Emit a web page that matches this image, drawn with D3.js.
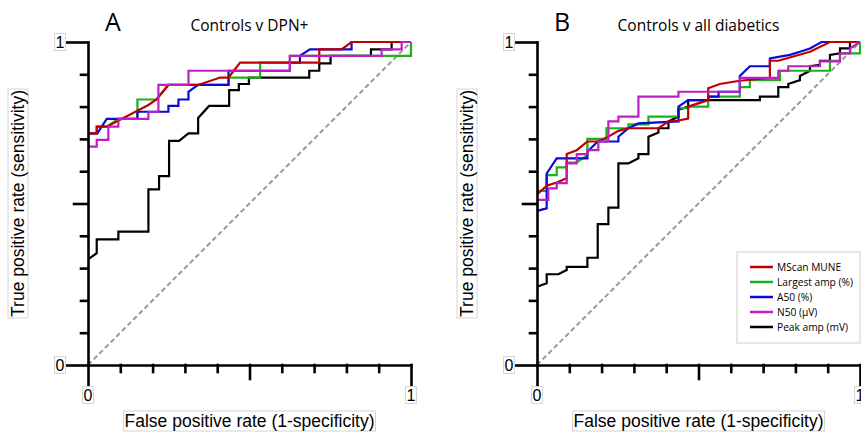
<!DOCTYPE html>
<html>
<head>
<meta charset="utf-8">
<script src="https://cdn.jsdelivr.net/npm/d3@7"></script>
<style>
  body { margin: 0; background: #fff; }
  svg { display: block; }
  .lab { font-family: "Liberation Sans", Arial, sans-serif; fill: #000; }
  .ttl { font-family: "Open Sans", sans-serif; fill: #000; }
</style>
</head>
<body>
<svg width="861" height="436"></svg>
<script>
(function(){
  'use strict';

  var WIDTH = 861;
  var HEIGHT = 436;

  var seriesNames = ['MScan MUNE', 'Largest amp (%)', 'A50 (%)', 'N50 (\u00b5V)', 'Peak amp (mV)'];
  var seriesColors = ['#c00000', '#1cb01c', '#0a0ad0', '#c01ec4', '#000000'];
  var axisTicks = [0, 0.1, 0.2, 0.3, 0.4, 0.5, 0.6, 0.7, 0.8, 0.9, 1];
  var axisTickLabels = ['0', '1'];

  // panel A: Controls v DPN+   ([fpr, tpr] pairs)
  var aMune = [[0,0.717],[0.027,0.717],[0.027,0.738],[0.058,0.738],[0.187,0.805],[0.212,0.822],
    [0.249,0.867],[0.341,0.867],[0.409,0.890],[0.435,0.890],[0.471,0.936],[0.716,0.936],
    [0.716,0.977],[0.785,0.977],[0.816,1],[1,1]];
  var aLargest = [[0,0.717],[0.027,0.717],[0.027,0.738],[0.058,0.738],[0.094,0.762],[0.153,0.762],
    [0.153,0.822],[0.212,0.822],[0.249,0.867],[0.435,0.867],[0.435,0.890],[0.533,0.890],
    [0.533,0.936],[0.625,0.936],[0.625,0.957],[1,0.957],[1,1]];
  var aA50 = [[0,0.717],[0.029,0.717],[0.058,0.762],[0.153,0.762],[0.153,0.784],[0.249,0.784],
    [0.249,0.802],[0.280,0.802],[0.280,0.822],[0.311,0.822],[0.311,0.846],[0.341,0.867],
    [0.435,0.867],[0.435,0.911],[0.625,0.911],[0.625,0.936],[0.656,0.936],[0.656,0.957],
    [0.687,0.977],[0.816,0.977],[0.816,1],[1,1]];
  var aN50 = [[0,0.676],[0.027,0.676],[0.027,0.697],[0.063,0.697],[0.063,0.738],[0.094,0.738],
    [0.094,0.762],[0.187,0.762],[0.187,0.784],[0.218,0.784],[0.218,0.867],[0.311,0.867],
    [0.311,0.911],[0.625,0.911],[0.625,0.957],[0.909,0.957],[0.909,0.977],[0.971,0.977],
    [0.971,1],[1,1]];
  var aPeak = [[0,0.327],[0.027,0.346],[0.027,0.389],[0.094,0.389],[0.094,0.413],[0.187,0.413],
    [0.187,0.544],[0.220,0.544],[0.220,0.585],[0.251,0.585],[0.251,0.694],[0.282,0.694],
    [0.311,0.717],[0.341,0.717],[0.341,0.765],[0.375,0.802],[0.437,0.802],[0.437,0.851],
    [0.467,0.851],[0.467,0.870],[0.498,0.870],[0.498,0.890],[0.685,0.890],[0.685,0.911],
    [0.716,0.911],[0.716,0.934],[0.751,0.934],[0.751,0.957],[0.876,0.957],[0.876,0.977],
    [0.940,0.977],[0.940,1],[1,1]];

  // panel B: Controls v all diabetics
  var bMune = [[0,0.528],[0.030,0.555],[0.061,0.565],[0.092,0.578],[0.092,0.653],[0.123,0.665],
    [0.156,0.692],[0.190,0.692],[0.221,0.707],[0.252,0.725],[0.283,0.733],[0.376,0.733],
    [0.407,0.754],[0.438,0.757],[0.468,0.763],[0.468,0.800],[0.530,0.820],[0.530,0.857],
    [0.566,0.870],[0.628,0.880],[0.721,0.889],[0.721,0.942],[0.747,0.942],[0.845,0.970],
    [0.907,1],[1,1]];
  var bLargest = [[0,0.539],[0.030,0.539],[0.030,0.588],[0.061,0.588],[0.061,0.612],[0.092,0.612],
    [0.092,0.627],[0.123,0.627],[0.156,0.650],[0.156,0.700],[0.215,0.700],[0.215,0.733],
    [0.283,0.733],[0.283,0.745],[0.345,0.745],[0.345,0.769],[0.438,0.769],[0.438,0.795],
    [0.468,0.795],[0.468,0.800],[0.530,0.800],[0.530,0.831],[0.628,0.831],[0.628,0.860],
    [0.659,0.860],[0.659,0.882],[0.752,0.882],[0.752,0.911],[0.907,0.911],[0.907,0.942],
    [0.938,0.942],[0.938,0.965],[1,0.965],[1,1]];
  var bA50 = [[0,0.477],[0.030,0.485],[0.030,0.593],[0.061,0.640],[0.156,0.640],[0.156,0.660],
    [0.188,0.692],[0.252,0.692],[0.252,0.707],[0.283,0.733],[0.314,0.748],[0.438,0.754],
    [0.438,0.800],[0.468,0.820],[0.530,0.820],[0.530,0.831],[0.562,0.831],[0.562,0.846],
    [0.628,0.846],[0.628,0.895],[0.659,0.925],[0.721,0.925],[0.721,0.949],[0.783,0.960],
    [0.814,0.970],[0.845,0.980],[0.881,1],[1,1]];
  var bN50 = [[0,0.511],[0.035,0.511],[0.035,0.547],[0.061,0.547],[0.061,0.563],[0.092,0.563],
    [0.092,0.624],[0.123,0.624],[0.123,0.653],[0.156,0.653],[0.156,0.665],[0.190,0.665],
    [0.190,0.692],[0.221,0.692],[0.221,0.754],[0.252,0.754],[0.252,0.769],[0.314,0.769],
    [0.314,0.831],[0.438,0.831],[0.438,0.846],[0.628,0.846],[0.628,0.889],[0.747,0.889],
    [0.747,0.911],[0.778,0.911],[0.778,0.925],[0.876,0.925],[0.876,0.940],[0.938,0.940],
    [0.938,0.965],[0.969,0.965],[0.969,0.980],[1,1]];
  var bPeak = [[0,0.242],[0.030,0.253],[0.030,0.281],[0.066,0.281],[0.092,0.294],[0.092,0.304],
    [0.156,0.304],[0.156,0.332],[0.188,0.332],[0.188,0.436],[0.221,0.436],[0.221,0.487],
    [0.252,0.487],[0.252,0.624],[0.283,0.624],[0.314,0.640],[0.314,0.653],[0.345,0.653],
    [0.345,0.707],[0.376,0.720],[0.376,0.733],[0.407,0.733],[0.407,0.754],[0.438,0.769],
    [0.438,0.790],[0.468,0.800],[0.468,0.820],[0.690,0.820],[0.690,0.831],[0.747,0.831],
    [0.747,0.860],[0.778,0.860],[0.778,0.870],[0.814,0.882],[0.814,0.895],[0.845,0.911],
    [0.845,0.925],[0.876,0.929],[0.876,0.942],[0.907,0.942],[0.907,0.960],[0.938,0.965],
    [0.938,0.980],[0.969,0.980],[0.969,1],[1,1]];

  var panels = [
    { letter: 'A', title: 'Controls v DPN+', left: 88, series: [aMune, aLargest, aA50, aN50, aPeak], legend: false },
    { letter: 'B', title: 'Controls v all diabetics', left: 537, series: [bMune, bLargest, bA50, bN50, bPeak], legend: true }
  ];

  var SIZE = 323;
  var TOP = 42;
  var drawOrder = [4, 1, 2, 0, 3];

  var svg = d3.select('svg');

  function boxedText(g, x, y, str, size, rotate) {
    var t = g.append('text')
      .attr('class', 'lab')
      .attr('font-size', size)
      .attr('text-anchor', 'middle')
      .attr('dominant-baseline', 'central')
      .attr('transform', 'translate(' + [x, y] + ')' + (rotate ? ' rotate(-90)' : ''))
      .text(str);
    var bb = t.node().getBBox();
    g.insert('rect', function() { return t.node(); })
      .attr('x', bb.x - 1).attr('y', bb.y)
      .attr('width', bb.width + 2).attr('height', bb.height)
      .attr('transform', t.attr('transform'))
      .attr('fill', '#fff')
      .attr('stroke', '#d4d4d4')
      .attr('stroke-width', 1);
  }

  function tickLen(d) {
    if (d === 0 || d === 1) return 21;
    if (Math.abs(d - 0.5) < 1e-9) return 14;
    return 7;
  }

  panels.forEach(function(p) {
    var g = svg.append('g');
    var xScale = d3.scaleLinear().domain([0, 1]).range([p.left, p.left + SIZE]);
    var yScale = d3.scaleLinear().domain([0, 1]).range([TOP + SIZE, TOP]);

    // chance line
    g.append('line')
      .attr('x1', xScale(0)).attr('y1', yScale(0))
      .attr('x2', xScale(1)).attr('y2', yScale(1))
      .attr('stroke', '#9a9a9a')
      .attr('stroke-width', 2)
      .attr('stroke-dasharray', '5,3');

    var line = d3.line()
      .x(function(d) { return xScale(d[0]); })
      .y(function(d) { return yScale(d[1]); });

    drawOrder.forEach(function(i) {
      g.append('path')
        .datum(p.series[i])
        .attr('d', line)
        .attr('fill', 'none')
        .attr('stroke', seriesColors[i])
        .attr('stroke-width', 2.2)
        .attr('stroke-linejoin', 'miter');
    });

    // axes
    var yAxis = g.append('g')
      .attr('transform', 'translate(' + [p.left, 0] + ')')
      .call(d3.axisLeft(yScale).tickValues(axisTicks).tickSizeOuter(0).tickFormat(''));
    yAxis.selectAll('.tick line').attr('x2', function(d) { return -tickLen(d); });

    var xAxis = g.append('g')
      .attr('transform', 'translate(' + [0, TOP + SIZE] + ')')
      .call(d3.axisBottom(xScale).tickValues(axisTicks).tickSizeOuter(0).tickFormat(''));
    xAxis.selectAll('.tick line').attr('y2', function(d) { return tickLen(d); });

    g.selectAll('.domain, .tick line')
      .attr('stroke', '#000')
      .attr('stroke-width', 2.6)
      .attr('stroke-linecap', 'square');

    // tick labels
    boxedText(g, p.left - 28, yScale(0), axisTickLabels[0], 16);
    boxedText(g, p.left - 28, yScale(1), axisTickLabels[1], 16);
    boxedText(g, xScale(0), TOP + SIZE + 30, axisTickLabels[0], 16);
    boxedText(g, xScale(1), TOP + SIZE + 30, axisTickLabels[1], 16);

    // axis titles
    boxedText(g, (xScale(0) + xScale(1)) / 2, 421, 'False positive rate (1-specificity)', 17.5);
    boxedText(g, p.left - 70, (yScale(0) + yScale(1)) / 2, 'True positive rate (sensitivity)', 17.5, true);

    // panel titles
    g.append('text').attr('class', 'ttl')
      .attr('x', p.left + 17).attr('y', 31)
      .attr('font-size', 25)
      .text(p.letter);
    g.append('text').attr('class', 'ttl')
      .attr('x', (xScale(0) + xScale(1)) / 2).attr('y', 31)
      .attr('text-anchor', 'middle')
      .attr('font-size', 15.5)
      .text(p.title);

    if (p.legend) {
      var lg = g.append('g').attr('transform', 'translate(' + [737, 252] + ')');
      lg.append('rect')
        .attr('width', 123).attr('height', 91)
        .attr('fill', '#fff')
        .attr('stroke', '#cfcfcf');
      seriesNames.forEach(function(name, i) {
        var yy = 15 + i * 15;
        lg.append('line')
          .attr('x1', 13).attr('x2', 36)
          .attr('y1', yy).attr('y2', yy)
          .attr('stroke', seriesColors[i])
          .attr('stroke-width', 2.5);
        lg.append('text').attr('class', 'ttl')
          .attr('x', 40).attr('y', yy)
          .attr('dominant-baseline', 'central')
          .attr('font-size', 10.2)
          .text(name);
      });
    }
  });
})();
</script>
</body>
</html>
